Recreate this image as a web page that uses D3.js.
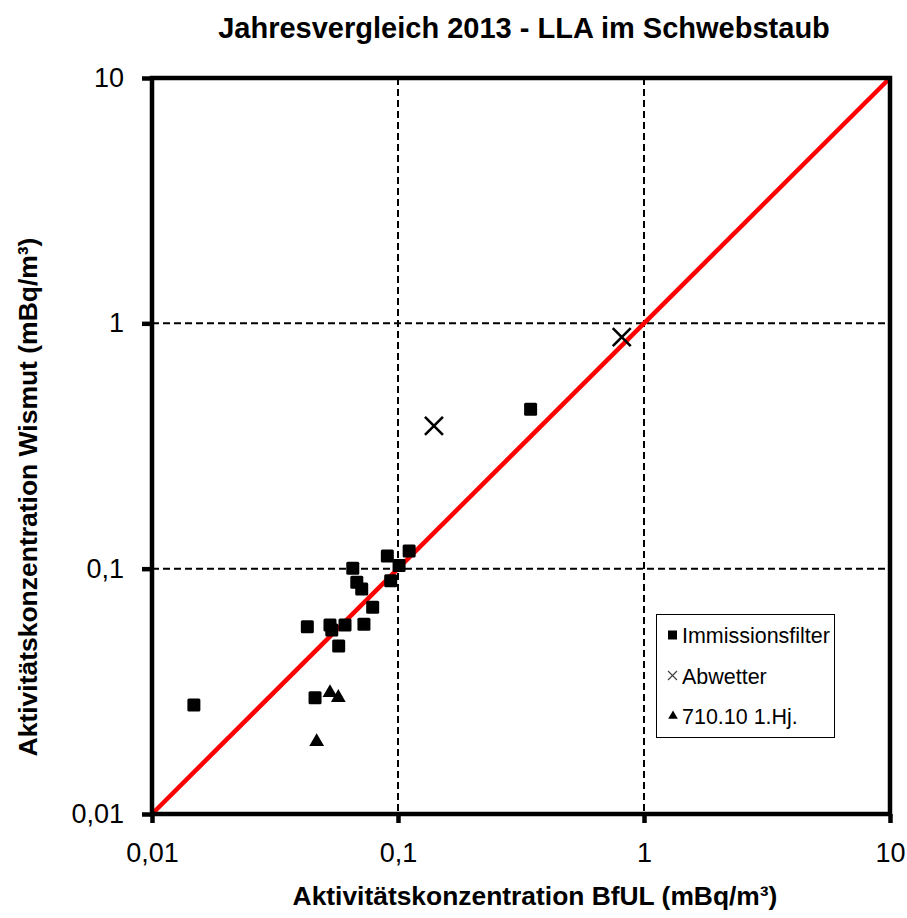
<!DOCTYPE html>
<html>
<head>
<meta charset="utf-8">
<script src="https://cdn.jsdelivr.net/npm/d3@7"></script>
<style>
html,body{margin:0;padding:0;background:#fff;}
svg{display:block;font-family:"Liberation Sans",Arial,sans-serif;}
</style>
</head>
<body>
<svg id="chart" width="907" height="918"></svg>
<script>
const titleText = "Jahresvergleich 2013 - LLA im Schwebstaub";
const xTitle = "Aktivitätskonzentration BfUL (mBq/m³)";
const yTitle = "Aktivitätskonzentration Wismut (mBq/m³)";
const tickValues = [0.01, 0.1, 1, 10];
const tickLabels = ["0,01", "0,1", "1", "10"];

// Immissionsfilter
const filterX = [0.0905, 0.111, 0.101, 0.0655, 0.068, 0.0712, 0.0934, 0.0789, 0.0428, 0.0529, 0.0538, 0.0609, 0.0727, 0.0574, 0.046, 0.0148, 0.346];
const filterY = [0.1127, 0.118, 0.1029, 0.1004, 0.088, 0.0826, 0.0893, 0.0696, 0.058, 0.0589, 0.0562, 0.0589, 0.0593, 0.0484, 0.0298, 0.0278, 0.446];
// Abwetter
const abwetterX = [0.140, 0.812];
const abwetterY = [0.382, 0.878];
// 710.10 1.Hj.
const hjX = [0.0529, 0.0572, 0.0467];
const hjY = [0.0312, 0.0298, 0.0197];

const legendLabels = ["Immissionsfilter", "Abwetter", "710.10 1.Hj."];
const lineDomain = [0.01, 10];

const svg = d3.select("#chart");
const L = 152, R = 890, T = 78, B = 814;
const x = d3.scaleLog().domain([0.01, 10]).range([L, R]);
const y = d3.scaleLog().domain([0.01, 10]).range([B, T]);

function fit(sel, target) {
  let fs = parseFloat(sel.attr("font-size"));
  const w = sel.node().getComputedTextLength();
  const nfs = fs * target / w;
  sel.attr("font-size", nfs.toFixed(2));
  return nfs;
}

// gridlines
const g = svg.append("g");
g.selectAll("line.vg").data(tickValues.slice(1, 3)).enter().append("line")
  .attr("x1", d => x(d)).attr("x2", d => x(d)).attr("y1", T).attr("y2", B)
  .attr("stroke", "#000").attr("stroke-width", 2).attr("stroke-dasharray", "7,4");
g.selectAll("line.hg").data(tickValues.slice(1, 3)).enter().append("line")
  .attr("y1", d => y(d)).attr("y2", d => y(d)).attr("x1", L).attr("x2", R)
  .attr("stroke", "#000").attr("stroke-width", 2).attr("stroke-dasharray", "7,4");

// red 1:1 line
svg.append("line")
  .attr("x1", x(lineDomain[0])).attr("y1", y(lineDomain[0]))
  .attr("x2", x(lineDomain[1])).attr("y2", y(lineDomain[1]))
  .attr("stroke", "#ff0000").attr("stroke-width", 4.5);

// axes
const xAxis = d3.axisBottom(x).tickValues(tickValues).tickFormat((d, i) => tickLabels[i]).tickSize(9).tickPadding(20);
const yAxis = d3.axisLeft(y).tickValues(tickValues).tickFormat((d, i) => tickLabels[i]).tickSize(10).tickPadding(18);
const gx = svg.append("g").attr("transform", `translate(0,${B})`).call(xAxis);
const gy = svg.append("g").attr("transform", `translate(${L},0)`).call(yAxis);
[gx, gy].forEach(a => {
  a.select(".domain").remove();
  a.selectAll(".tick line").attr("stroke", "#000").attr("stroke-width", 4.5);
  a.selectAll(".tick text").attr("font-size", 27).attr("fill", "#000")
    .attr("font-family", "Liberation Sans, Arial, sans-serif");
});

// frame
svg.append("rect").attr("x", L).attr("y", T).attr("width", R - L).attr("height", B - T)
  .attr("fill", "none").attr("stroke", "#000").attr("stroke-width", 4.5);

// markers
const filterData = filterX.map((v, i) => [v, filterY[i]]);
const abData = abwetterX.map((v, i) => [v, abwetterY[i]]);
const hjData = hjX.map((v, i) => [v, hjY[i]]);

svg.append("g").selectAll("rect").data(filterData).enter().append("rect")
  .attr("x", d => x(d[0]) - 6.5).attr("y", d => y(d[1]) - 6.5)
  .attr("width", 13).attr("height", 13).attr("rx", 1.5).attr("fill", "#000");

const triSym = d3.symbol().type(d3.symbolTriangle).size(95);
svg.append("g").selectAll("path").data(hjData).enter().append("path")
  .attr("d", triSym).attr("transform", d => `translate(${x(d[0])},${y(d[1])})`).attr("fill", "#000");

svg.append("g").selectAll("path").data(abData).enter().append("path")
  .attr("d", "M-9,-9L9,9M-9,9L9,-9")
  .attr("transform", d => `translate(${x(d[0])},${y(d[1])})`)
  .attr("stroke", "#000").attr("stroke-width", 2.6).attr("fill", "none");

// legend
const lg = svg.append("g");
lg.append("rect").attr("x", 656.5).attr("y", 614.5).attr("width", 178).attr("height", 123)
  .attr("fill", "#fff").attr("stroke", "#000").attr("stroke-width", 1);
const rowsY = [635, 676, 716];
lg.append("rect").attr("x", 668).attr("y", rowsY[0] - 4.5).attr("width", 9).attr("height", 9).attr("fill", "#000");
lg.append("path").attr("d", `M668,${rowsY[1]-5}L677,${rowsY[1]+4}M668,${rowsY[1]+4}L677,${rowsY[1]-5}`)
  .attr("stroke", "#444").attr("stroke-width", 1.2);
lg.append("path").attr("d", d3.symbol().type(d3.symbolTriangle).size(40))
  .attr("transform", `translate(673,${rowsY[2]})`).attr("fill", "#000");
const lt = lg.selectAll("text").data(legendLabels).enter().append("text")
  .attr("x", 682).attr("y", (d, i) => rowsY[i] + 7.5)
  .attr("font-size", 20.5).attr("fill", "#000").text(d => d);
const lfs = fit(d3.select(lt.nodes()[0]), 148);
lt.attr("font-size", lfs.toFixed(2));

// titles
const t = svg.append("text").attr("x", 524).attr("y", 38).attr("text-anchor", "middle")
  .attr("font-weight", "bold").attr("font-size", 22).attr("fill", "#000").text(titleText);
fit(t, 612);
const xt = svg.append("text").attr("x", 535).attr("y", 905).attr("text-anchor", "middle")
  .attr("font-weight", "bold").attr("font-size", 20).attr("fill", "#000").text(xTitle);
fit(xt, 485);
const yt = svg.append("text").attr("transform", "translate(37,497) rotate(-90)").attr("text-anchor", "middle")
  .attr("font-weight", "bold").attr("font-size", 20).attr("fill", "#000").text(yTitle);
fit(yt, 519);
</script>
</body>
</html>
